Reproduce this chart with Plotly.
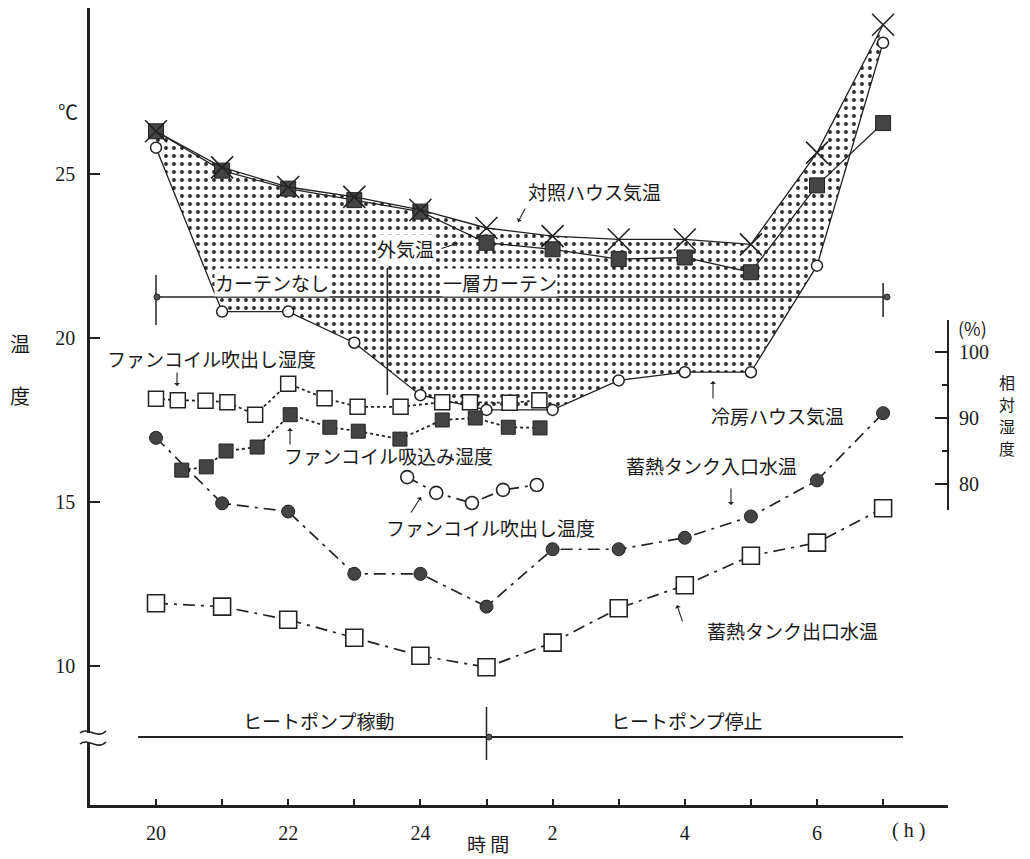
import plotly.graph_objects as go

W, H = 1030, 859


def px(x):
    return x / W


def py(y):
    return 1 - y / H


# time axis: hours elapsed since 20:00
hours = list(range(12))
hour_labels = ["20", "", "22", "", "24", "", "2", "", "4", "", "6", ""]

# air temperatures (°C), hourly
control_house = [26.3, 25.2, 24.6, 24.3, 23.9, 23.35, 23.1, 23.0, 23.0, 22.85, 25.65, 29.55]
outside_air = [26.3, 25.1, 24.55, 24.2, 23.85, 22.9, 22.7, 22.4, 22.45, 22.0, 24.65, 26.55]
cooled_house = [25.8, 20.8, 20.8, 19.85, 18.25, 17.8, 17.8, 18.7, 18.95, 18.95, 22.2, 29.0]

# storage tank water temperatures (°C), hourly
tank_inlet = [16.95, 14.95, 14.7, 12.8, 12.8, 11.8, 13.55, 13.55, 13.9, 14.55, 15.65, 17.7]
tank_outlet = [11.9, 11.8, 11.4, 10.85, 10.3, 9.95, 10.7, 11.75, 12.45, 13.35, 13.75, 14.8]

# fan coil measurements (irregular sampling times)
fc_out_rh_t = [0, 0.33, 0.75, 1.08, 1.5, 2.0, 2.55, 3.05, 3.7, 4.33, 4.75, 5.35, 5.8]
fc_out_rh = [92.9, 92.7, 92.6, 92.4, 90.5, 95.2, 93.0, 91.7, 91.7, 92.4, 92.4, 92.3, 92.7]
fc_in_rh_t = [0.39, 0.76, 1.06, 1.53, 2.03, 2.63, 3.06, 3.69, 4.33, 4.83, 5.33, 5.81]
fc_in_rh = [82.1, 82.6, 85.0, 85.6, 90.5, 88.6, 88.0, 86.8, 89.7, 90.0, 88.6, 88.5]
fc_out_temp_t = [3.8, 4.24, 4.78, 5.25, 5.76]
fc_out_temp = [15.75, 15.27, 14.96, 15.36, 15.51]

temp_ticks = [10, 15, 20, 25]
rh_ticks = [80, 90, 100]
rh_minor = [85, 95]

# events on the time axis
curtain_start, curtain_change, curtain_end = 0, 3.5, 11
heat_pump_start, heat_pump_stop, heat_pump_end = -0.27, 5, 11.3

INK = "#222222"
DARK = "#444444"
JP = "Noto Sans CJK JP"
NUM = "Liberation Serif"

fig = go.Figure()

# dotted band between the control house and the cooled house
fig.add_trace(go.Scatter(x=hours, y=cooled_house, mode="lines",
                         line=dict(width=0), hoverinfo="skip", showlegend=False))
fig.add_trace(go.Scatter(x=hours, y=control_house, mode="lines", fill="tonexty",
                         fillpattern=dict(shape=".", fgcolor="#2a2a2a", bgcolor="white",
                                          size=8, solidity=0.18, fillmode="replace"),
                         line=dict(width=0), hoverinfo="skip", showlegend=False))

# outside air (filled squares)
fig.add_trace(go.Scatter(x=hours, y=outside_air, mode="lines+markers",
                         line=dict(color=INK, width=1.3),
                         marker=dict(symbol="square", size=15, color=DARK,
                                     line=dict(color=INK, width=1)),
                         cliponaxis=False, showlegend=False))
# control house (crosses)
fig.add_trace(go.Scatter(x=hours, y=control_house, mode="lines+markers",
                         line=dict(color=INK, width=1.3),
                         marker=dict(symbol="x-thin", size=22,
                                     line=dict(color=INK, width=1.6)),
                         cliponaxis=False, showlegend=False))
# cooled house (open circles)
fig.add_trace(go.Scatter(x=hours, y=cooled_house, mode="lines+markers",
                         line=dict(color=INK, width=1.3),
                         marker=dict(symbol="circle", size=11, color="white",
                                     line=dict(color=INK, width=1.5)),
                         cliponaxis=False, showlegend=False))

# fan coil humidities on the right-hand axis
fig.add_trace(go.Scatter(x=fc_out_rh_t, y=fc_out_rh, yaxis="y3", mode="lines+markers",
                         line=dict(color=INK, width=1.8, dash="dot"),
                         marker=dict(symbol="square", size=15, color="white",
                                     line=dict(color=INK, width=1.5)),
                         cliponaxis=False, showlegend=False))
fig.add_trace(go.Scatter(x=fc_in_rh_t, y=fc_in_rh, yaxis="y3", mode="lines+markers",
                         line=dict(color=INK, width=1.8, dash="dot"),
                         marker=dict(symbol="square", size=14, color=DARK,
                                     line=dict(color=INK, width=1)),
                         cliponaxis=False, showlegend=False))

# water temperatures
chain = "12px,6px,3px,6px"
fig.add_trace(go.Scatter(x=hours, y=tank_inlet, mode="lines+markers",
                         line=dict(color=INK, width=1.7, dash=chain),
                         marker=dict(symbol="circle", size=13, color=DARK,
                                     line=dict(color=INK, width=1)),
                         cliponaxis=False, showlegend=False))
fig.add_trace(go.Scatter(x=hours, y=tank_outlet, mode="lines+markers",
                         line=dict(color=INK, width=1.7, dash=chain),
                         marker=dict(symbol="square", size=17, color="white",
                                     line=dict(color=INK, width=1.6)),
                         cliponaxis=False, showlegend=False))
fig.add_trace(go.Scatter(x=fc_out_temp_t, y=fc_out_temp, mode="lines+markers",
                         line=dict(color=INK, width=1.7, dash=chain),
                         marker=dict(symbol="circle", size=13, color="white",
                                     line=dict(color=INK, width=1.6)),
                         cliponaxis=False, showlegend=False))

shapes = []
# curtain period bar
cy = py(297)
shapes.append(dict(type="line", xref="x", yref="paper", x0=curtain_start, x1=curtain_end,
                   y0=cy, y1=cy, line=dict(color=INK, width=1.5)))
for xv, top, bot in [(curtain_start, 275, 325), (curtain_end, 283, 317),
                     (curtain_change, 268, 395)]:
    shapes.append(dict(type="line", xref="x", yref="paper", x0=xv, x1=xv,
                       y0=py(top), y1=py(bot), line=dict(color=INK, width=1.5)))
# heat pump bar
hy = py(737)
shapes.append(dict(type="line", xref="x", yref="paper", x0=heat_pump_start, x1=heat_pump_end,
                   y0=hy, y1=hy, line=dict(color=INK, width=2)))
shapes.append(dict(type="line", xref="x", yref="paper", x0=heat_pump_stop, x1=heat_pump_stop,
                   y0=py(707), y1=py(760), line=dict(color=INK, width=1.5)))
# axis break on the temperature axis
shapes.append(dict(type="rect", xref="paper", yref="paper", x0=px(84), x1=px(97),
                   y0=py(743), y1=py(733), fillcolor="white", line=dict(width=0)))


def wave(y0):
    pts = [(80, y0), (88, y0 - 7), (97, y0 + 7), (106, y0 - 2)]
    p = [(px(a), py(b)) for a, b in pts]
    return "M {:.5f},{:.5f} C {:.5f},{:.5f} {:.5f},{:.5f} {:.5f},{:.5f}".format(
        p[0][0], p[0][1], p[1][0], p[1][1], p[2][0], p[2][1], p[3][0], p[3][1])


for yb in (733, 744):
    shapes.append(dict(type="path", xref="paper", yref="paper", path=wave(yb),
                       line=dict(color=INK, width=1.6)))

annotations = []


def label(text, x, y, size=19, bg=None, family=JP):
    a = dict(text=text, x=px(x), y=py(y), xref="paper", yref="paper",
             showarrow=False, xanchor="center", yanchor="middle",
             font=dict(family=family, size=size, color="#1a1a1a"), borderpad=0)
    if bg:
        a["bgcolor"] = bg
    annotations.append(a)


def arrow(x0, y0, x1, y1):
    annotations.append(dict(text="", x=px(x1), y=py(y1), xref="paper", yref="paper",
                            ax=x0 - x1, ay=y0 - y1, showarrow=True, arrowhead=1,
                            arrowsize=0.9, arrowwidth=1.1, arrowcolor=INK))


label("対照ハウス気温", 594, 192)
label("外気温", 405, 248, bg="white")
label("カーテンなし", 272, 282, bg="white")
label("一層カーテン", 500, 282, bg="white")
label("ファンコイル吹出し湿度", 211, 358)
label("ファンコイル吸込み湿度", 388, 455)
label("ファンコイル吹出し温度", 490, 527)
label("冷房ハウス気温", 777, 415)
label("蓄熱タンク入口水温", 711, 465)
label("蓄熱タンク出口水温", 792, 630)
label("ヒートポンプ稼動", 318, 720)
label("ヒートポンプ停止", 686, 720)
label("℃", 68, 112, size=20)
label("温", 20, 343, size=20)
label("度", 20, 395, size=20)
label("時 間", 488, 843, size=19)
label("( h )", 908, 830, size=20, family=NUM)
label("(%)", 972, 328, size=18)
for ch, yy in zip("相対湿度", (382, 404, 426, 448)):
    label(ch, 1007, yy, size=16)

arrow(526, 207, 518, 222)
arrow(440, 249, 458, 243)
arrow(177, 371, 177, 386)
arrow(290, 446, 290, 428)
arrow(410, 514, 421, 497)
arrow(713, 400, 713, 381)
arrow(731, 487, 731, 505)
arrow(683, 623, 677, 605)

# curtain end dots and heat pump stop dot
for xx, yy in [(157, 297), (887, 297), (489, 737)]:
    shapes.append(dict(type="circle", xref="paper", yref="paper",
                       x0=px(xx - 3), x1=px(xx + 3), y0=py(yy + 3), y1=py(yy - 3),
                       fillcolor="#555", line=dict(color=INK, width=1)))

x_lo = (90 - 156) / 66.1
x_hi = (948 - 156) / 66.1
t_lo = 17.5 - (805 - 419.75) / 32.78
t_hi = 17.5 + (419.75 - 8) / 32.78
rh_lo = 90 - (510 - 418) / 6.6
rh_hi = 90 + (418 - 320) / 6.6

fig.update_layout(
    width=W, height=H,
    margin=dict(l=0, r=0, t=0, b=0),
    paper_bgcolor="white",
    plot_bgcolor="rgba(0,0,0,0)",
    font=dict(family=JP, color=INK),
    showlegend=False,
    shapes=shapes,
    annotations=annotations,
    xaxis=dict(domain=[px(90), px(948)], range=[x_lo, x_hi],
               tickvals=hours, ticktext=hour_labels,
               ticks="inside", ticklen=6, tickwidth=2, tickcolor=INK,
               showline=True, linewidth=2.5, linecolor=INK,
               showgrid=False, zeroline=False, anchor="y",
               tickfont=dict(family=NUM, size=20, color="#1a1a1a"),
               ticklabelstandoff=8),
    yaxis=dict(domain=[py(805), py(8)], range=[t_lo, t_hi],
               tickvals=temp_ticks, ticks="inside", ticklen=10, tickwidth=2,
               tickcolor=INK, showline=True, linewidth=2.5, linecolor=INK,
               showgrid=False, zeroline=False, anchor="x",
               tickfont=dict(family=NUM, size=20, color="#1a1a1a"),
               ticklabelstandoff=8),
    yaxis3=dict(domain=[py(510), py(320)], range=[rh_lo, rh_hi],
                anchor="free", position=px(948), side="right",
                tickvals=rh_ticks, ticks="inside", ticklen=12, tickwidth=2,
                tickcolor=INK, showline=True, linewidth=2, linecolor=INK,
                minor=dict(tickvals=rh_minor, ticks="inside", ticklen=5,
                           tickwidth=2, tickcolor=INK),
                showgrid=False, zeroline=False,
                tickfont=dict(family=NUM, size=20, color="#1a1a1a"),
                ticklabelstandoff=6),
)

fig.write_html("out.html")
